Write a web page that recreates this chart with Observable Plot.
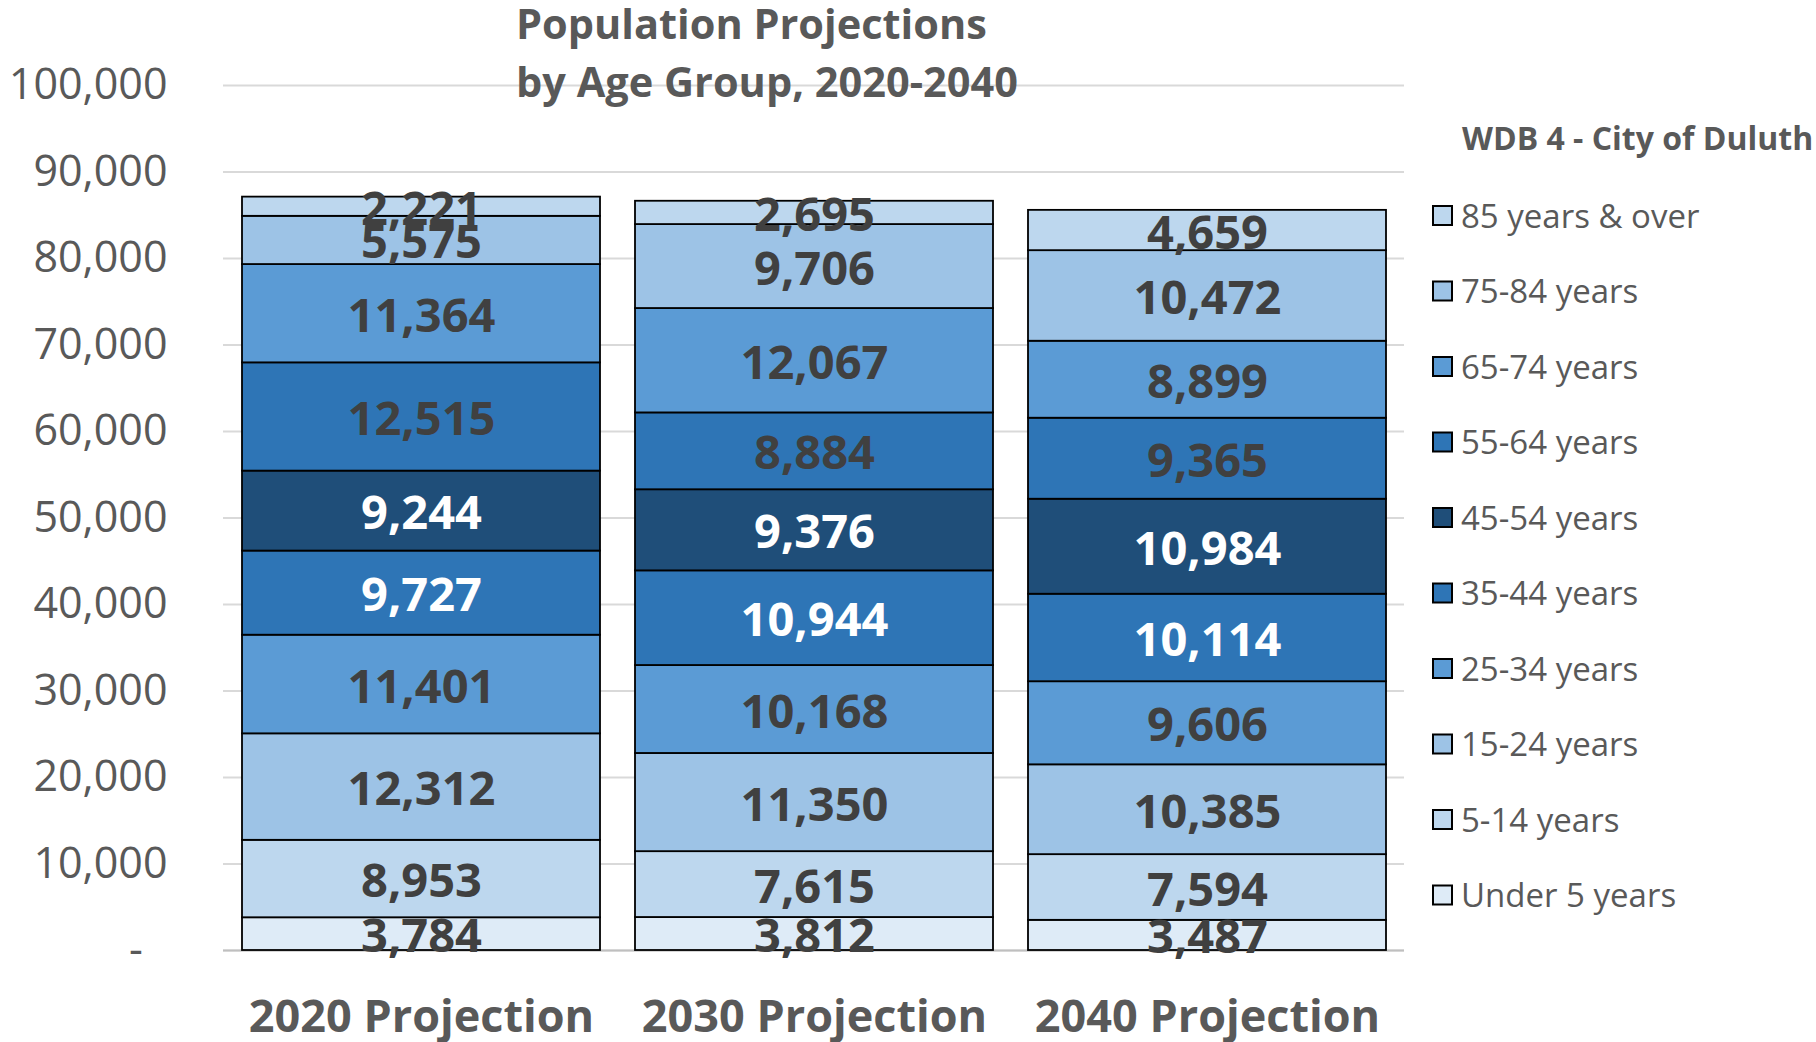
<!DOCTYPE html>
<html>
<head>
<meta charset="utf-8">
<script src="https://cdn.jsdelivr.net/npm/d3@7"></script>
<script src="https://cdn.jsdelivr.net/npm/@observablehq/plot@0.6"></script>
<style>
  html, body { margin: 0; padding: 0; background: #ffffff; }
  #wrap { position: relative; width: 1816px; height: 1042px; overflow: hidden; font-family: "Open Sans", sans-serif; }
  #wrap > svg { position: absolute; left: 0; top: 0; }
</style>
</head>
<body>
<div id="wrap"></div>
<script>
// ---- data ----
const years = ["2020 Projection", "2030 Projection", "2040 Projection"];
const groups = ["Under 5 years", "5-14 years", "15-24 years", "25-34 years", "35-44 years",
                "45-54 years", "55-64 years", "65-74 years", "75-84 years", "85 years & over"];
const values2020 = [3784, 8953, 12312, 11401, 9727, 9244, 12515, 11364, 5575, 2221];
const values2030 = [3812, 7615, 11350, 10168, 10944, 9376, 8884, 12067, 9706, 2695];
const values2040 = [3487, 7594, 10385, 9606, 10114, 10984, 9365, 8899, 10472, 4659];
const colors = ["#DEEBF7", "#BDD7EE", "#9DC3E6", "#5B9BD5", "#2E75B6",
                "#1F4E79", "#2E75B6", "#5B9BD5", "#9DC3E6", "#BDD7EE"];
const whiteLabelGroups = ["35-44 years", "45-54 years"];
const yTicks = [0, 10000, 20000, 30000, 40000, 50000, 60000, 70000, 80000, 90000, 100000];
const titleLines = ["Population Projections", "by Age Group, 2020-2040"];
const legendTitle = "WDB 4 - City of Duluth";

const series = [values2020, values2030, values2040];
const rows = [];
years.forEach((yr, i) => groups.forEach((g, j) => rows.push({year: yr, group: g, value: series[i][j]})));

const fmt = d3.format(",");
const isWhite = d => whiteLabelGroups.includes(d.group);
const labelFont = {fontFamily: "Open Sans", fontSize: 47, fontWeight: "bold"};

const chart = Plot.plot({
  width: 1816,
  height: 1042,
  marginLeft: 223,
  marginRight: 412,
  marginTop: 85,
  marginBottom: 92,
  style: {fontFamily: "Open Sans", background: "transparent", overflow: "visible"},
  x: {domain: years, paddingInner: 0.09, paddingOuter: 0.045, label: null},
  y: {domain: [0, 100000], label: null},
  color: {domain: groups, range: colors},
  marks: [
    Plot.gridY(yTicks, {stroke: "#d9d9d9", strokeOpacity: 1, strokeWidth: 2}),
    Plot.ruleY([0], {stroke: "#bfbfbf", strokeWidth: 2}),
    Plot.barY(rows, Plot.stackY({x: "year", y: "value", z: "group", fill: "group",
      stroke: "#000000", strokeWidth: 1.8})),
    Plot.text(rows, Plot.stackY({x: "year", y: "value", z: "group",
      text: d => isWhite(d) ? "" : fmt(d.value),
      fill: "#404040", dy: 3, ...labelFont})),
    Plot.text(rows, Plot.stackY({x: "year", y: "value", z: "group",
      text: d => isWhite(d) ? fmt(d.value) : "",
      fill: "#ffffff", dy: 3, ...labelFont})),
    Plot.axisY(yTicks, {tickSize: 0, tickPadding: 56, fontSize: 43, fill: "#595959",
      tickFormat: d => d === 0 ? "-\u2007" : fmt(d), label: null}),
    Plot.axisX({tickSize: 0, tickPadding: 50, fontSize: 45, fontWeight: "bold", fill: "#595959", label: null})
  ]
});

const wrap = document.getElementById("wrap");
wrap.appendChild(chart);

// ---- title and legend overlay ----
const overlay = d3.select(wrap).append("svg")
  .attr("width", 1816).attr("height", 1042)
  .style("pointer-events", "none")
  .attr("font-family", "Open Sans");

overlay.selectAll("text.title").data(titleLines).join("text")
  .attr("class", "title")
  .attr("x", 516)
  .attr("y", (d, i) => 39 + i * 58)
  .attr("font-size", 41.5)
  .attr("font-weight", "bold")
  .attr("fill", "#595959")
  .text(d => d);

overlay.append("text")
  .attr("x", 1462).attr("y", 150)
  .attr("font-size", 32).attr("font-weight", "bold").attr("fill", "#595959")
  .text(legendTitle);

const legendItems = groups.map((g, i) => ({group: g, color: colors[i]})).reverse();
const lg = overlay.selectAll("g.item").data(legendItems).join("g")
  .attr("class", "item")
  .attr("transform", (d, i) => `translate(0,${216 + i * 75.5})`);
lg.append("rect")
  .attr("x", 1433).attr("y", -10).attr("width", 19).attr("height", 19)
  .attr("fill", d => d.color).attr("stroke", "#000").attr("stroke-width", 2);
lg.append("text")
  .attr("x", 1461).attr("y", 11.5)
  .attr("font-size", 33).attr("fill", "#595959")
  .text(d => d.group);
</script>
</body>
</html>
